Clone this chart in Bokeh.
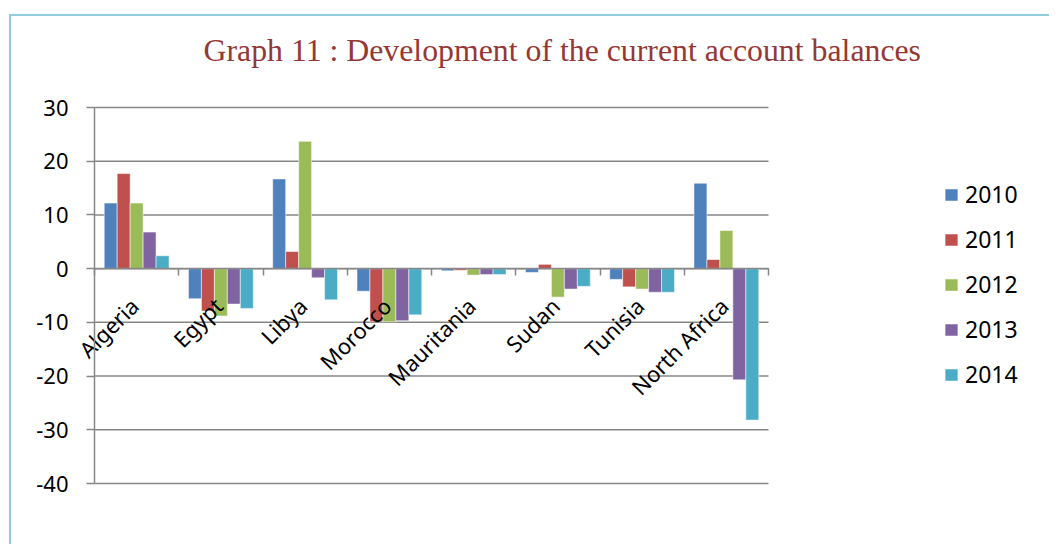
import math
from bokeh.plotting import figure
from bokeh.models import (Range1d, LinearAxis, FixedTicker, Legend, LegendItem,
                          ColumnDataSource, Label, Grid)
from bokeh.embed import file_html
from bokeh.resources import INLINE

countries = ["Algeria", "Egypt", "Libya", "Morocco", "Mauritania", "Sudan", "Tunisia", "North Africa"]
years = ["2010", "2011", "2012", "2013", "2014"]
v2010 = [12.2, -5.6, 16.7, -4.2, -0.4, -0.7, -2.0, 15.9]
v2011 = [17.7, -7.9, 3.2, -9.9, -0.3, 0.8, -3.4, 1.7]
v2012 = [12.2, -8.8, 23.7, -9.9, -1.2, -5.3, -3.8, 7.1]
v2013 = [6.8, -6.6, -1.7, -9.7, -1.1, -3.8, -4.4, -20.7]
v2014 = [2.4, -7.4, -5.8, -8.6, -1.1, -3.3, -4.4, -28.2]
y_ticks = [-40, -30, -20, -10, 0, 10, 20, 30]
y_labels = ["-40", "-30", "-20", "-10", "0", "10", "20", "30"]
colors = ["#4F81BD", "#C0504D", "#9BBB59", "#8064A2", "#4BACC6"]
series = [v2010, v2011, v2012, v2013, v2014]
title_text = "Graph 11 : Development of the current account balances"

n = len(countries)
centers = list(range(n))
bounds = [i - 0.5 for i in range(n + 1)]
bar_w = 1.0 / (len(years) + 1.5)
label_shift = -0.03
label_pos = [c + label_shift for c in centers]

# layout (pixels): plot area 674 x 376 px, placed at (83, 91) inside a 1040 x 530 canvas
W, H = 1040, 530
left_px, top_px, bottom_px = 83, 91, 63
px_per_cat = 674 / n
px_per_unit = 376 / (y_ticks[-1] - y_ticks[0])
x_start = bounds[0] - left_px / px_per_cat
x_end = bounds[0] + (W - left_px) / px_per_cat
y_top = y_ticks[-1] + top_px / px_per_unit
y_start = y_ticks[0] - bottom_px / px_per_unit

p = figure(width=W, height=H, x_range=Range1d(x_start, x_end), y_range=Range1d(y_start, y_top),
           output_backend="svg", toolbar_location=None,
           x_axis_location=None, y_axis_location=None,
           min_border_left=0, min_border_right=0, min_border_top=0, min_border_bottom=0,
           styles={"border-top": "2px solid #93CDDD", "border-left": "2px solid #93CDDD",
                   "margin-left": "9px", "margin-top": "14px"})
p.outline_line_color = None
p.background_fill_color = "white"
p.border_fill_color = "white"
p.center = [obj for obj in p.center if not isinstance(obj, Grid)]

grid_color = "#878787"
# horizontal gridlines limited to the plot area
p.segment(x0=[bounds[0]] * len(y_ticks), x1=[bounds[-1]] * len(y_ticks), y0=y_ticks, y1=y_ticks,
          line_color=grid_color, line_width=1.5)

renderers = []
for k, (yr, vals, col) in enumerate(zip(years, series, colors)):
    off = (k - (len(years) - 1) / 2) * bar_w
    src = ColumnDataSource(dict(x=[c + off for c in centers], top=vals, bottom=[0] * n))
    r = p.vbar(x="x", top="top", bottom="bottom", width=bar_w, source=src,
               fill_color=col, line_color="white", line_alpha=0.5, line_width=1)
    renderers.append(r)

yaxis = LinearAxis(fixed_location=bounds[0],
                   ticker=FixedTicker(ticks=y_ticks), bounds=(y_ticks[0], y_ticks[-1]),
                   axis_line_color=grid_color, axis_line_width=1.5,
                   major_label_overrides={t: s for t, s in zip(y_ticks, y_labels)},
                   major_tick_out=8, major_tick_in=0, major_tick_line_color=grid_color,
                   major_tick_line_width=1.5, minor_tick_line_color=None,
                   major_label_text_font="Noto Sans", major_label_text_font_size="22px",
                   major_label_text_color="black", major_label_standoff=18)
p.add_layout(yaxis, "left")

xaxis = LinearAxis(fixed_location=0, bounds=(bounds[0], bounds[-1]),
                   ticker=FixedTicker(ticks=label_pos, minor_ticks=bounds),
                   major_label_overrides={c: name for c, name in zip(label_pos, countries)},
                   major_label_orientation=math.pi / 4,
                   axis_line_color=grid_color, axis_line_width=1.5,
                   major_tick_out=0, major_tick_in=0, major_tick_line_color=None,
                   minor_tick_out=7, minor_tick_in=0, minor_tick_line_color=grid_color,
                   minor_tick_line_width=1.5,
                   major_label_text_font="Noto Sans", major_label_text_font_size="22px",
                   major_label_text_color="black", major_label_standoff=26)
p.add_layout(xaxis, "below")

title = Label(x=bounds[0] + 109 / px_per_cat, y=y_ticks[-1] + 57 / px_per_unit,
              text=title_text, text_font="Liberation Serif", text_font_size="31.8px",
              text_color="#953735", text_align="left", text_baseline="alphabetic")
p.add_layout(title)

legend = Legend(items=[LegendItem(label=y, renderers=[r]) for y, r in zip(years, renderers)],
                location=(849 + left_px, 93 + bottom_px), padding=0, margin=0, spacing=13,
                glyph_width=16, glyph_height=15, label_height=30, label_standoff=6,
                label_text_font="Noto Sans", label_text_font_size="23px",
                label_text_color="black",
                border_line_color=None, background_fill_alpha=0)
p.add_layout(legend)

open("out.html", "w").write(file_html(p, INLINE))
